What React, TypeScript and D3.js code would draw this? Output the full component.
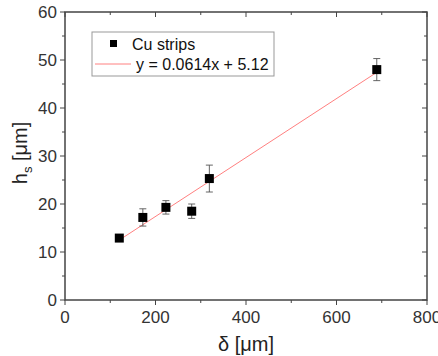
import React from "react";
import * as d3 from "d3";

const deltaValues = [120, 172, 223, 280, 319, 689];
const hsValues = [12.9, 17.2, 19.3, 18.5, 25.3, 48.0];
const hsErrors = [0.5, 1.8, 1.4, 1.5, 2.8, 2.3];
const xTicks = [0, 200, 400, 600, 800];
const yTicks = [0, 10, 20, 30, 40, 50, 60];
const fitSlope = 0.0614;
const fitIntercept = 5.12;
const seriesLabel = "Cu strips";
const fitLabel = "y = 0.0614x + 5.12";

export default function App() {
  const W = 438, H = 356;
  const left = 65, right = 427, top = 12, bottom = 300;
  const x = d3.scaleLinear().domain([0, 800]).range([left, right]);
  const y = d3.scaleLinear().domain([0, 60]).range([bottom, top]);
  const axisColor = "#444";
  const font = "Liberation Sans, Arial, sans-serif";
  const xMinor = d3.range(0, 801, 100);
  const yMinor = d3.range(0, 61, 5);
  const xFit0 = d3.min(deltaValues)!, xFit1 = d3.max(deltaValues)!;
  const line = d3.line<number>().x((d) => x(d)).y((d) => y(fitSlope * d + fitIntercept));
  return (
    <svg width={W} height={H} style={{ position: "absolute", left: 0, top: 0, background: "#fff" }}>
      <rect x={left} y={top} width={right - left} height={bottom - top} fill="none" stroke={axisColor} strokeWidth={1.5} />
      {xMinor.map((t) => {
        const major = t % 200 === 0;
        const len = major ? 5 : 3;
        return (
          <g key={"xt" + t}>
            <line x1={x(t)} x2={x(t)} y1={bottom} y2={bottom + len} stroke={axisColor} strokeWidth={1} />
            <line x1={x(t)} x2={x(t)} y1={top} y2={top + len} stroke={axisColor} strokeWidth={1} />
          </g>
        );
      })}
      {yMinor.map((t) => {
        const major = t % 10 === 0;
        const len = major ? 5 : 3;
        return (
          <g key={"yt" + t}>
            <line x1={left - len} x2={left} y1={y(t)} y2={y(t)} stroke={axisColor} strokeWidth={1} />
            <line x1={right - len} x2={right} y1={y(t)} y2={y(t)} stroke={axisColor} strokeWidth={1} />
          </g>
        );
      })}
      {xTicks.map((t) => (
        <text key={"xl" + t} x={x(t)} y={323} textAnchor="middle" fontFamily={font} fontSize={17} fill="#333">
          {t}
        </text>
      ))}
      {yTicks.map((t) => (
        <text key={"yl" + t} x={left - 8} y={y(t) + 6} textAnchor="end" fontFamily={font} fontSize={17} fill="#333">
          {t}
        </text>
      ))}
      <text transform={`translate(27,153) rotate(-90)`} textAnchor="middle" fontFamily={font} fontSize={20} fill="#222">
        h<tspan fontSize={13} dy={5}>s</tspan>
        <tspan dy={-5}> [μm]</tspan>
      </text>
      <text x={246} y={351} textAnchor="middle" fontFamily={font} fontSize={20} fill="#222">
        δ [μm]
      </text>
      <path d={line([xFit0, xFit1]) || ""} fill="none" stroke="#ff8080" strokeWidth={1} />
      {deltaValues.map((d, i) => {
        const cx = x(d);
        const y1 = y(hsValues[i] + hsErrors[i]);
        const y2 = y(hsValues[i] - hsErrors[i]);
        return (
          <g key={"e" + i} stroke="#555" strokeWidth={0.9}>
            <line x1={cx} x2={cx} y1={y1} y2={y2} />
            <line x1={cx - 3.5} x2={cx + 3.5} y1={y1} y2={y1} />
            <line x1={cx - 3.5} x2={cx + 3.5} y1={y2} y2={y2} />
          </g>
        );
      })}
      {deltaValues.map((d, i) => (
        <rect key={"p" + i} x={x(d) - 4.5} y={y(hsValues[i]) - 4.5} width={9} height={9} fill="#000" />
      ))}
      <rect x={92} y={32} width={182} height={44} fill="#fff" stroke="#999" strokeWidth={1} />
      <rect x={110} y={40} width={7} height={7} fill="#000" />
      <text x={132} y={50} fontFamily={font} fontSize={16} fill="#111">{seriesLabel}</text>
      <line x1={95} x2={131} y1={64} y2={64} stroke="#ff8080" strokeWidth={1} />
      <text x={136} y={70} fontFamily={font} fontSize={16} fill="#111">{fitLabel}</text>
    </svg>
  );
}
